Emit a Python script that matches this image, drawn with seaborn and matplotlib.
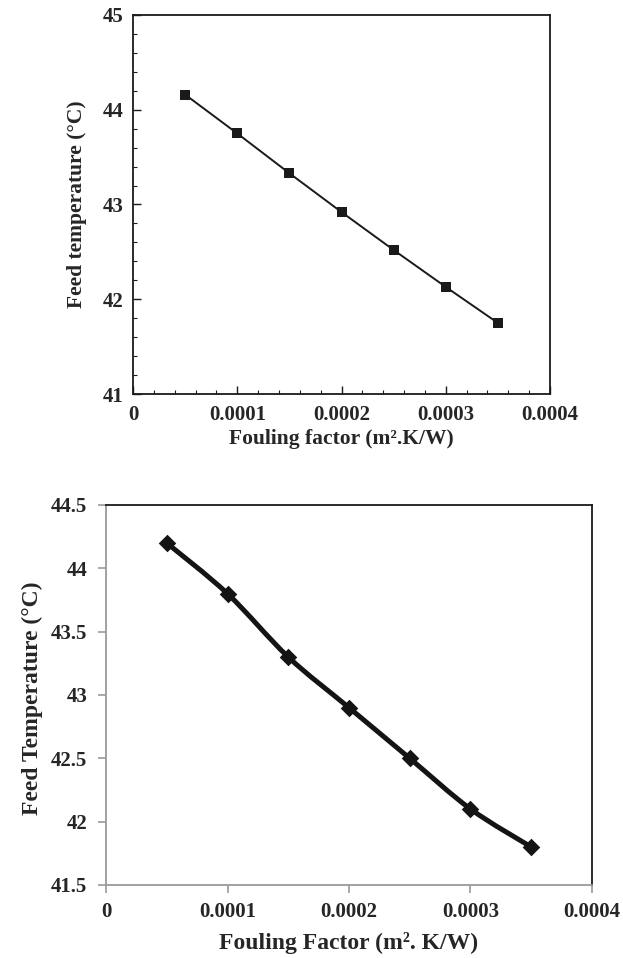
import numpy as np
import matplotlib
matplotlib.use("Agg")
import matplotlib.pyplot as plt
from matplotlib.path import Path
from matplotlib.patches import PathPatch
from matplotlib.ticker import AutoMinorLocator
import seaborn as sns
import pandas as pd

# Fouling factor (m2.K/W) and feed temperature (degC)
fouling_a = [0.00005, 0.0001, 0.00015, 0.0002, 0.00025, 0.0003, 0.00035]
feed_temp_a = [44.16, 43.75, 43.33, 42.92, 42.52, 42.13, 41.75]

fouling_b = [0.00005, 0.0001, 0.00015, 0.0002, 0.00025, 0.0003, 0.00035]
feed_temp_b = [44.2, 43.8, 43.3, 42.9, 42.5, 42.1, 41.8]

x_ticks = [0, 0.0001, 0.0002, 0.0003, 0.0004]
x_tick_labels = ["0", "0.0001", "0.0002", "0.0003", "0.0004"]
y_ticks_a = [41, 42, 43, 44, 45]
y_ticks_b = [41.5, 42, 42.5, 43, 43.5, 44, 44.5]
y_tick_labels_b = ["41.5", "42", "42.5", "43", "43.5", "44", "44.5"]

sns.set_style("white")
plt.rcParams["font.family"] = ["Liberation Serif", "DejaVu Serif"]
plt.rcParams["font.weight"] = "bold"

W, H = 623, 958
fig = plt.figure(figsize=(W / 100, H / 100), dpi=100)


def px_axes(left, top, right, bottom):
    return fig.add_axes([left / W, 1 - bottom / H, (right - left) / W, (bottom - top) / H])


def smooth_path(xs, ys):
    """Cubic Bezier through the points (Catmull-Rom style control points)."""
    pts = np.column_stack([xs, ys]).astype(float)
    n = len(pts)
    verts = [pts[0]]
    codes = [Path.MOVETO]
    for i in range(n - 1):
        p0 = pts[i - 1] if i > 0 else pts[i]
        p1 = pts[i]
        p2 = pts[i + 1]
        p3 = pts[i + 2] if i + 2 < n else pts[i + 1]
        c1 = p1 + (p2 - p0) / 6.0
        c2 = p2 - (p3 - p1) / 6.0
        verts += [c1, c2, p2]
        codes += [Path.CURVE4] * 3
    return Path(verts, codes)


# ---------- upper panel ----------
ax1 = px_axes(133, 15, 550, 394)
df_a = pd.DataFrame({"fouling": fouling_a, "temp": feed_temp_a})
sns.lineplot(data=df_a, x="fouling", y="temp", ax=ax1, color="#1a1a1a",
             linewidth=1.4, marker="s", markersize=6.5, markeredgewidth=0,
             markerfacecolor="#1a1a1a")
ax1.set_xlim(0, 0.0004)
ax1.set_ylim(41, 45)
ax1.set_xticks(x_ticks)
ax1.set_xticklabels(x_tick_labels)
ax1.set_yticks(y_ticks_a)
ax1.set_yticklabels([str(v) for v in y_ticks_a])
ax1.xaxis.set_minor_locator(AutoMinorLocator(5))
ax1.yaxis.set_minor_locator(AutoMinorLocator(5))
for s in ax1.spines.values():
    s.set_color("#1a1a1a")
    s.set_linewidth(1.3)
ax1.tick_params(axis="both", which="both", bottom=True, left=True,
                top=False, right=False)
ax1.tick_params(axis="both", which="major", direction="in", length=5.5, width=1.0,
                color="#1a1a1a", labelsize=15, pad=7)
ax1.tick_params(axis="both", which="minor", direction="in", length=2.8, width=0.8,
                color="#1a1a1a")
ax1.tick_params(axis="x", which="major", pad=8)
for lab in ax1.get_xticklabels() + ax1.get_yticklabels():
    lab.set_fontweight("bold")
ax1.set_xlabel("Fouling factor (m\u00b2.K/W)", fontsize=15.5, fontweight="bold")
ax1.set_ylabel("Feed temperature (\u00b0C)", fontsize=15.5, fontweight="bold")
ax1.xaxis.set_label_coords(341.5 / W, 1 - 429 / H, transform=fig.transFigure)
ax1.yaxis.set_label_coords(87 / W, 1 - 204 / H, transform=fig.transFigure)

# ---------- lower panel ----------
ax2 = px_axes(106, 505, 592, 885)
curve = PathPatch(smooth_path(fouling_b, feed_temp_b), facecolor="none",
                  edgecolor="#141414", linewidth=3.6, capstyle="round",
                  joinstyle="round", zorder=2)
ax2.add_patch(curve)
df_b = pd.DataFrame({"fouling": fouling_b, "temp": feed_temp_b})
sns.scatterplot(data=df_b, x="fouling", y="temp", ax=ax2, marker="D", s=80,
                color="#141414", edgecolor="#141414", linewidth=0, zorder=3)
ax2.set_xlim(0, 0.0004)
ax2.set_ylim(41.5, 44.5)
ax2.set_xticks(x_ticks)
ax2.set_xticklabels(x_tick_labels)
ax2.set_yticks(y_ticks_b)
ax2.set_yticklabels(y_tick_labels_b)
ax2.spines["left"].set_color("#9a9a9a")
ax2.spines["bottom"].set_color("#9a9a9a")
ax2.spines["top"].set_color("#1a1a1a")
ax2.spines["right"].set_color("#1a1a1a")
for s in ax2.spines.values():
    s.set_linewidth(1.3)
ax2.tick_params(axis="both", which="major", bottom=True, left=True,
                top=False, right=False)
ax2.tick_params(axis="both", which="major", direction="out", length=6, width=1.2,
                color="#9a9a9a", labelsize=15)
ax2.tick_params(axis="y", pad=7.5)
ax2.tick_params(axis="x", pad=6)
for lab in ax2.get_xticklabels() + ax2.get_yticklabels():
    lab.set_fontweight("bold")
ax2.set_xlabel("Fouling Factor (m\u00b2. K/W)", fontsize=17, fontweight="bold")
ax2.set_ylabel("Feed Temperature (\u00b0C)", fontsize=17, fontweight="bold")
ax2.xaxis.set_label_coords(349 / W, 1 - 932 / H, transform=fig.transFigure)
ax2.yaxis.set_label_coords(43 / W, 1 - 698 / H, transform=fig.transFigure)

fig.savefig("out.png", dpi=100)
